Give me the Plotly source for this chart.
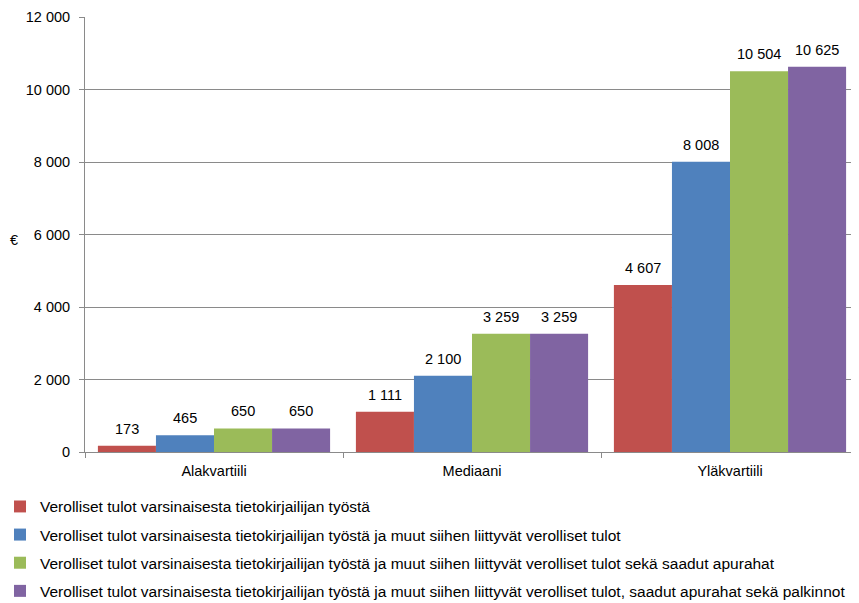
import plotly.graph_objects as go

categories = ["Alakvartiili", "Mediaani", "Yläkvartiili"]
series_names = [
    "Verolliset tulot varsinaisesta tietokirjailijan työstä",
    "Verolliset tulot varsinaisesta tietokirjailijan työstä ja muut siihen liittyvät verolliset tulot",
    "Verolliset tulot varsinaisesta tietokirjailijan työstä ja muut siihen liittyvät verolliset tulot sekä saadut apurahat",
    "Verolliset tulot varsinaisesta tietokirjailijan työstä ja muut siihen liittyvät verolliset tulot, saadut apurahat sekä palkinnot",
]
values_red = [173, 1111, 4607]
values_blue = [465, 2100, 8008]
values_green = [650, 3259, 10504]
values_purple = [650, 3259, 10625]
colors = ["#C0504D", "#4F81BD", "#9BBB59", "#8064A2"]
y_ticks = [0, 2000, 4000, 6000, 8000, 10000, 12000]

FONT = "Liberation Sans, Arial, sans-serif"
all_series = [values_red, values_blue, values_green, values_purple]

fig = go.Figure()
for i, (name, vals) in enumerate(zip(series_names, all_series)):
    fig.add_trace(go.Bar(
        x=categories, y=vals, name=name,
        marker=dict(color=colors[i], line=dict(width=0)),
        legendgroup=str(i),
    ))

# data labels: placed at each bar's category/value, shifted to bar centre (style offsets)
plot_w = 774
cat_px = plot_w / len(categories)
bar_px = cat_px * 0.9 / len(all_series)
annotations = []
for i, vals in enumerate(all_series):
    xshift = (i - (len(all_series) - 1) / 2) * bar_px
    for c, v in zip(categories, vals):
        annotations.append(dict(
            x=c, y=v, xref="x", yref="y", text=f"{v:,}".replace(",", " "),
            showarrow=False, xanchor="center", yanchor="bottom",
            xshift=xshift, yshift=7,
            font=dict(size=14.5, family=FONT, color="#000000"),
        ))
annotations.append(dict(
    text="€", xref="paper", yref="paper", x=-0.0917, y=0.487,
    xanchor="center", yanchor="middle", showarrow=False,
    font=dict(size=14.5, family=FONT),
))

fig.update_layout(
    width=851, height=595,
    separators=", ",
    barmode="group", bargap=0.1, bargroupgap=0,
    plot_bgcolor="white", paper_bgcolor="white",
    margin=dict(l=77, r=0, t=9, b=151, autoexpand=False),
    font=dict(family=FONT, size=14.5, color="#000000"),
    showlegend=True,
    legend=dict(
        x=-0.1098, y=-0.087, xanchor="left", yanchor="top",
        orientation="v", traceorder="grouped",
        font=dict(size=15.5, family=FONT),
        tracegroupgap=5, itemwidth=30,
    ),
    annotations=annotations,
)
fig.update_yaxes(
    range=[0, 12000], tickvals=y_ticks, tickformat=",d",
    showgrid=True, gridcolor="#8A8A8A", gridwidth=1,
    showline=True, linecolor="#8A8A8A", linewidth=1,
    ticks="outside", ticklen=5, tickcolor="#8A8A8A",
    ticklabelstandoff=6,
    zeroline=False,
)
fig.update_xaxes(
    showline=True, linecolor="#8A8A8A", linewidth=1,
    ticks="outside", ticklen=5, tickcolor="#8A8A8A",
    tickson="boundaries", ticklabelstandoff=6,
)
fig.write_html("out.html")
